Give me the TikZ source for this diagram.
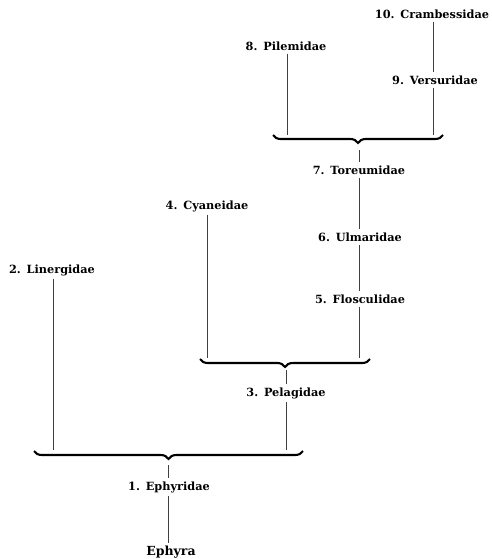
\documentclass[tikz,border=0pt]{standalone}
\usepackage{fontspec}
\setmainfont{DejaVu Serif}
\usetikzlibrary{decorations.pathreplacing}
\begin{document}
\begin{tikzpicture}[x=1pt,y=1pt,
  lab/.style={font=\fontsize{11.3}{13}\selectfont\bfseries, inner sep=3pt},
  stem/.style={line width=0.6pt, black!75},
  bigbrace/.style={decorate, decoration={brace, mirror, amplitude=8pt}, line width=2.1pt}]
\useasboundingbox (0,0) rectangle (492,-559);
% labels
\node[lab] (n10) at (432,-14) {10.\ \,Crambessidae};
\node[lab] (n9)  at (435,-80) {9.\ \,Versuridae};
\node[lab] (n8)  at (286,-46) {8.\ \,Pilemidae};
\node[lab] (n7)  at (359,-170) {7.\ \,Toreumidae};
\node[lab] (n6)  at (360,-237) {6.\ \,Ulmaridae};
\node[lab] (n5)  at (360,-299) {5.\ \,Flosculidae};
\node[lab] (n4)  at (207,-206) {4.\ \,Cyaneidae};
\node[lab] (n3)  at (286,-393) {3.\ \,Pelagidae};
\node[lab] (n2)  at (52,-270) {2.\ \,Linergidae};
\node[lab] (n1)  at (169,-487) {1.\ \,Ephyridae};
\node[lab, font=\fontsize{12.5}{14}\selectfont\bfseries] (e) at (171,-552) {Ephyra};
% brace coordinates
\coordinate (aL) at (273,-135); \coordinate (aR) at (443,-135); \coordinate (aT) at (359,-150);
\coordinate (bL) at (200,-359); \coordinate (bR) at (370,-359); \coordinate (bT) at (286,-370);
\coordinate (cL) at (34,-451);  \coordinate (cR) at (303,-451); \coordinate (cT) at (168,-465);
\coordinate (a8) at (287,-135); \coordinate (a9) at (433,-135);
\coordinate (b4) at (207,-358); \coordinate (b5) at (359,-358);
\coordinate (c2) at (53,-450);  \coordinate (c3) at (286,-450);
% braces
\draw[bigbrace] (aL) -- (aR);
\draw[bigbrace] (bL) -- (bR);
\draw[bigbrace] (cL) -- (cR);
% stems
\draw[stem] (n10.south -| a9) -- (n9.north -| a9);
\draw[stem] (n9.south -| a9) -- (a9);
\draw[stem] (n8.south -| a8) -- (a8);
\draw[stem] (aT) -- (n7.north -| aT);
\draw[stem] (n7.south -| aT) -- (n6.north -| aT);
\draw[stem] (n6.south -| aT) -- (n5.north -| aT);
\draw[stem] (n5.south -| b5) -- (b5);
\draw[stem] (n4.south -| b4) -- (b4);
\draw[stem] (bT) -- (n3.north -| bT);
\draw[stem] (n3.south -| c3) -- (c3);
\draw[stem] (n2.south -| c2) -- (c2);
\draw[stem] (cT) -- (n1.north -| cT);
\draw[stem] (n1.south -| cT) -- (e.north -| cT);
\end{tikzpicture}
\end{document}
